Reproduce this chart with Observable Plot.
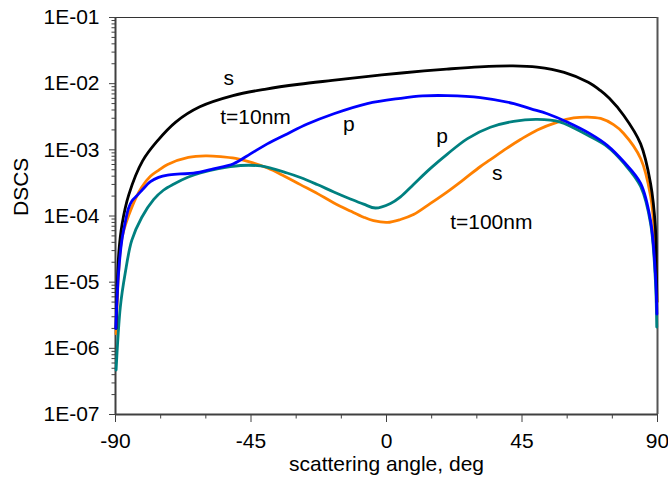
<!DOCTYPE html>
<html>
<head>
<meta charset="utf-8">
<script src="https://cdn.jsdelivr.net/npm/d3@7"></script>
<script src="https://cdn.jsdelivr.net/npm/@observablehq/plot@0.6"></script>
<style>
  html, body { margin: 0; padding: 0; background: #fff; }
  #chart { width: 668px; height: 485px; }
</style>
</head>
<body>
<div id="chart"></div>
<script>
// ---- data (scattering angle in deg, DSCS) ----
// s polarisation, t = 10 nm (black)
const sThinAngle = [-89.8,-88.9,-87.8,-85.6,-81,-76,-70,-62,-51,-40,-29,-18,-6,5,20,31,42,50,59,67,71,74,78.8,84.4,87.7,89.3,89.6,89.8];
const sThinDSCS  = [2.0e-6,2.8e-5,7.6e-5,2.09e-4,6.8e-4,1.38e-3,2.63e-3,4.47e-3,6.6e-3,8.3e-3,9.8e-3,1.12e-2,1.29e-2,1.45e-2,1.66e-2,1.80e-2,1.86e-2,1.78e-2,1.48e-2,1.05e-2,7.9e-3,6.0e-3,3.3e-3,1.23e-3,3.1e-4,6.8e-5,1.78e-5,5.0e-6];

// p polarisation, t = 10 nm (blue)
const pThinAngle = [-89.9,-89.0,-87.9,-86.8,-85.7,-84.5,-83.0,-81.3,-78.4,-75.7,-72.7,-68.4,-64.1,-57.5,-50.8,-45.2,-39.6,-33,-26.3,-17.5,-6.4,4.6,12,20.2,31.2,42.3,48,53.4,60,67.7,73.3,78.8,84.4,87.7,89.3,89.8];
const pThinDSCS  = [2.0e-6,1.35e-5,4.27e-5,7.9e-5,1.3e-4,1.7e-4,2.0e-4,2.43e-4,3.3e-4,3.83e-4,4.15e-4,4.32e-4,4.44e-4,5.16e-4,6.17e-4,8.7e-4,1.23e-3,1.74e-3,2.45e-3,3.51e-3,5.0e-3,6.0e-3,6.53e-3,6.6e-3,6.17e-3,5.0e-3,4.17e-3,3.51e-3,2.63e-3,1.74e-3,1.17e-3,6.6e-4,3.1e-4,8.5e-5,1.35e-5,3.3e-6];

// s polarisation, t = 100 nm (orange)
const sThickAngle = [-89.8,-88.9,-87.8,-84.6,-81.3,-78.4,-75.7,-72.7,-65.8,-60.1,-55.1,-50.1,-45.2,-39.5,-34.2,-28.6,-22.9,-17.6,-12.0,-7.6,-4.3,0.3,4.65,8.97,14.6,20.3,25.6,31.2,34.5,39.9,44.5,50.1,56.8,62.1,66.8,71.1,75.4,78.7,84.4,87.7,89.3,89.8];
const sThickDSCS  = [1.66e-6,1.58e-5,4.8e-5,1.35e-4,2.72e-4,3.98e-4,4.9e-4,6.0e-4,7.66e-4,8.1e-4,7.9e-4,7.4e-4,6.5e-4,5.3e-4,4.07e-4,2.98e-4,2.18e-4,1.59e-4,1.19e-4,9.6e-5,8.5e-5,8.0e-5,8.85e-5,1.05e-4,1.55e-4,2.34e-4,3.55e-4,5.6e-4,7.1e-4,1.05e-3,1.43e-3,2.0e-3,2.63e-3,3.03e-3,3.13e-3,2.98e-3,2.4e-3,1.78e-3,7.4e-4,2.0e-4,3.4e-5,5.0e-6];

// p polarisation, t = 100 nm (teal)
const pThickAngle = [-89.8,-88.4,-86.8,-84.6,-81.3,-77.3,-74.1,-70.6,-65.8,-61.8,-56.2,-48.5,-41.8,-33.0,-28.6,-23.0,-17.5,-12.0,-7.6,-3.65,1.33,4.65,8.97,14.6,20.3,26.9,34.5,42.2,50.1,57.7,66.7,73.3,78.8,84.4,87.7,89.3,89.75];
const pThickDSCS  = [4.7e-7,4.2e-6,1.35e-5,4.27e-5,9.5e-5,1.78e-4,2.45e-4,3.05e-4,3.89e-4,4.47e-4,5.16e-4,5.8e-4,5.7e-4,4.47e-4,3.82e-4,2.99e-4,2.31e-4,1.81e-4,1.51e-4,1.32e-4,1.55e-4,1.95e-4,3.0e-4,5.25e-4,8.7e-4,1.48e-3,2.19e-3,2.69e-3,2.88e-3,2.63e-3,1.67e-3,1.12e-3,6.3e-4,2.79e-4,7.7e-5,1.06e-5,2.1e-6];

// annotation labels
const labelText = ["s", "t=10nm", "p", "p", "s", "t=100nm"];
const labelAngle = [-52.4, -43.5, -12.5, 18.5, 36.8, 34.8];
const labelDSCS  = [1.19e-2, 3.16e-3, 2.4e-3, 1.58e-3, 4.35e-4, 8.1e-5];

// axis ticks
const xMajorTicks = [-90, -45, 0, 45, 90];
const xMinorTicks = [-75, -60, -30, -15, 15, 30, 60, 75];
const yMajorTicks = [1e-7, 1e-6, 1e-5, 1e-4, 1e-3, 1e-2, 1e-1];
const yTickLabels = ["1E-07", "1E-06", "1E-05", "1E-04", "1E-03", "1E-02", "1E-01"];
const yMinorTicks = [];
for (let i = 0; i < yMajorTicks.length - 1; i++) for (let k = 2; k <= 9; k++) yMinorTicks.push(k * yMajorTicks[i]);

const xLabel = "scattering angle, deg";
const yLabel = "DSCS";

const toRows = (a, v) => a.map((x, i) => ({angle: x, dscs: v[i]}));
const series = [
  {rows: toRows(sThickAngle, sThickDSCS), color: "#ff8000"},
  {rows: toRows(pThickAngle, pThickDSCS), color: "#008080"},
  {rows: toRows(sThinAngle, sThinDSCS), color: "#000000"},
  {rows: toRows(pThinAngle, pThinDSCS), color: "#0000ff"}
];
const labels = labelText.map((t, i) => ({text: t, angle: labelAngle[i], dscs: labelDSCS[i]}));
const yLabelOf = d => yTickLabels[yMajorTicks.findIndex(t => Math.abs(Math.log10(t) - Math.log10(d)) < 1e-6)];

const axisColor = "#404040";
const chart = Plot.plot({
  width: 668,
  height: 485,
  marginLeft: 115,
  marginRight: 11,
  marginTop: 17,
  marginBottom: 71,
  x: {type: "linear", domain: [-90, 90]},
  y: {type: "log", domain: [1e-7, 1e-1]},
  style: {fontFamily: "'Liberation Sans', Arial, sans-serif", fontSize: "21px", color: "#000", background: "#fff"},
  marks: [
    Plot.axisY(yMinorTicks, {tickSize: 3.5, text: null, label: null, stroke: axisColor}),
    Plot.axisY(yMajorTicks, {tickSize: 6, tickPadding: 10, label: null, stroke: axisColor, fill: "#000", tickFormat: yLabelOf}),
    Plot.axisX(xMinorTicks, {tickSize: 4.5, text: null, label: null, stroke: axisColor}),
    Plot.axisX(xMajorTicks, {tickSize: 8, tickPadding: 11, label: null, stroke: axisColor, fill: "#000", tickFormat: d => String(d)}),
    Plot.ruleY([1e-1], {stroke: "#333", strokeWidth: 1}),
    Plot.ruleX([90], {stroke: "#555", strokeWidth: 2}),
    Plot.ruleX([-90], {stroke: axisColor, strokeWidth: 2}),
    Plot.ruleY([1e-7], {stroke: axisColor, strokeWidth: 2}),
    ...series.map(s => Plot.line(s.rows, {x: "angle", y: "dscs", stroke: s.color, strokeWidth: 2.8, curve: "catmull-rom"})),
    Plot.text(labels, {x: "angle", y: "dscs", text: "text", fontSize: 21, fill: "#000"}),
    Plot.text([xLabel], {frameAnchor: "bottom", dy: 56, fontSize: 21, fill: "#000"}),
    Plot.text([yLabel], {frameAnchor: "left", dx: -94, rotate: -90, fontSize: 21, fill: "#000"})
  ]
});
document.getElementById("chart").appendChild(chart);
</script>
</body>
</html>
